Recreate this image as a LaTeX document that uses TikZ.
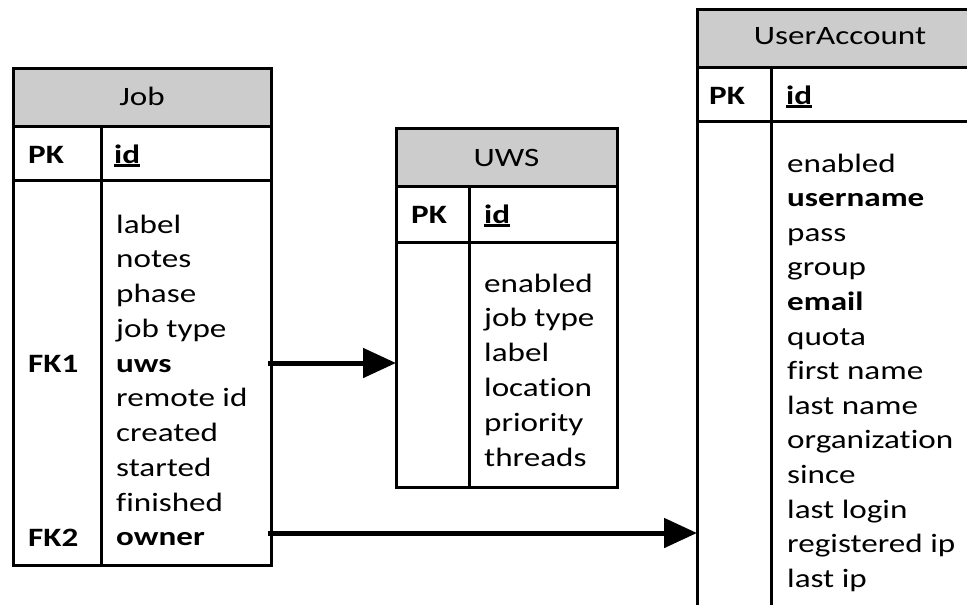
\documentclass[tikz,border=0pt]{standalone}
\usepackage{fontspec}
\setmainfont[FakeStretch=1.25,Ligatures={NoCommon}]{Carlito}
\usetikzlibrary{arrows.meta}
\definecolor{hdrgray}{HTML}{CCCCCC}
\newcommand\pkul[1]{\setbox0\hbox{#1}\rlap{\rule[-3.6pt]{\wd0}{2.4pt}}\box0}
\begin{document}
\begin{tikzpicture}[x=1pt,y=-1pt,
  box/.style={draw=black,line width=3pt,inner sep=0pt,outer sep=0pt},
  hdr/.style={box,fill=hdrgray},
  sep/.style={line width=3pt},
  txt/.style={anchor=base west,inner sep=0pt,font=\fontsize{26.5}{34.6}\selectfont},
  ttl/.style={anchor=base,inner sep=0pt,font=\fontsize{26.5}{34.6}\selectfont},
  rel/.style={line width=5pt,-{Triangle[length=33pt,width=29pt]}}]
\useasboundingbox (0,0) rectangle (967,605);
\clip (0,0) rectangle (967,605);

% ---------- Job ----------
\node[hdr,minimum width=258pt,minimum height=58pt] (jobhead) at (142,97) {};
\node[box,minimum width=258pt,minimum height=439pt] (jobbody) at (142,345.5) {};
\draw[sep] (jobbody.west |- 0,180) -- (jobbody.east |- 0,180);
\draw[sep] (101,126) -- (101,565);
\node[ttl] (jobt) at (142,105) {Job};
\node[txt] (jobpk) at (28,163) {\textbf{PK}};
\node[txt] (jobid) at (114,163) {\pkul{\textbf{id}}};
\foreach [count=\i] \t in {label,notes,phase,job type,\textbf{uws},remote id,created,started,finished,\textbf{owner}}
  \node[txt] (job-\i) at (116,{233+34.75*(\i-1)}) {\t};
\node[txt] (jobfk1) at (28,372) {\textbf{FK1}};
\node[txt] (jobfk2) at (28,546) {\textbf{FK2}};

% ---------- UWS ----------
\node[hdr,minimum width=221pt,minimum height=58pt] (uwshead) at (506.5,157) {};
\node[box,minimum width=221pt,minimum height=301pt] (uwsbody) at (506.5,336.5) {};
\draw[sep] (uwsbody.west |- 0,242) -- (uwsbody.east |- 0,242);
\draw[sep] (469,186) -- (469,487);
\node[ttl] (uwst) at (506.5,166) {UWS};
\node[txt] (uwspk) at (411,223) {\textbf{PK}};
\node[txt] (uwsid) at (484,223) {\pkul{\textbf{id}}};
\foreach [count=\i] \t in {enabled,job type,label,location,priority,threads}
  \node[txt] (uws-\i) at (484,{292+34.8*(\i-1)}) {\t};

% ---------- UserAccount ----------
\node[hdr,minimum width=286pt,minimum height=58pt] (uahead) at (840,38) {};
\node[box,minimum width=286pt,minimum height=560pt] (uabody) at (840,347) {};
\draw[sep] (uabody.west |- 0,121) -- (uabody.east |- 0,121);
\draw[sep] (771,67) -- (771,630);
\node[ttl] (uat) at (840,45) {UserAccount};
\node[txt] (uapk) at (709,104) {\textbf{PK}};
\node[txt] (uaid) at (786,104) {\pkul{\textbf{id}}};
\foreach [count=\i] \t in {enabled,\textbf{username},pass,group,\textbf{email},quota,first name,last name,organization,since,last login,registered ip,last ip}
  \node[txt] (ua-\i) at (787,{172+34.6*(\i-1)}) {\t};

% ---------- relations ----------
\coordinate (fk1) at (268,363);
\coordinate (fk2) at (268,533);
\draw[rel] (fk1) -- (uwsbody.west |- fk1);
\draw[rel] (fk2) -- (uabody.west |- fk2);
\end{tikzpicture}
\end{document}
